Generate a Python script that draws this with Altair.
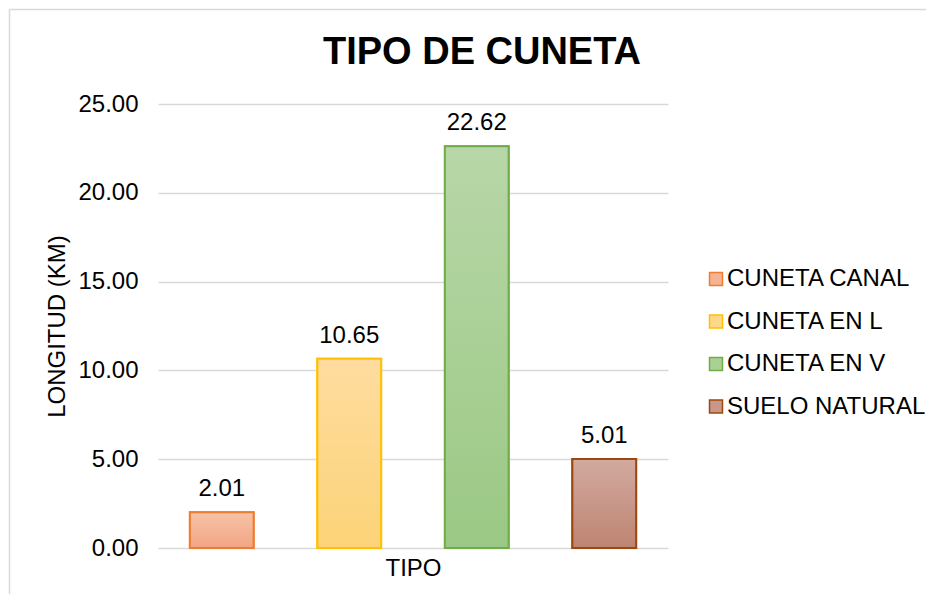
import altair as alt
import pandas as pd

titulo = "TIPO DE CUNETA"
categorias = ["CUNETA CANAL", "CUNETA EN L", "CUNETA EN V", "SUELO NATURAL"]
longitudes = [2.01, 10.65, 22.62, 5.01]
relleno_sup = ["#F7C2A7", "#FEDC9E", "#B8D7A8", "#D2AA9F"]
relleno_inf = ["#F2A584", "#FCD378", "#9BC884", "#BE8472"]
relleno_medio = ["#F4B394", "#FDD88B", "#AAD096", "#C89789"]
bordes = ["#ED7D31", "#FFC000", "#70AD47", "#9E480E"]
ticks_y = [0, 5, 10, 15, 20, 25]

FONT = "Liberation Sans"
FS = 24

df = pd.DataFrame({"tipo": categorias, "km": longitudes})

x_enc = alt.X("tipo:N", sort=categorias,
              scale=alt.Scale(domain=categorias, paddingInner=0.5, paddingOuter=0.25),
              axis=alt.Axis(labels=False, ticks=False, domain=False, grid=False,
                            title="TIPO", titleFont=FONT, titleFontSize=FS,
                            titleFontWeight="normal", titleColor="black",
                            titleBaseline="alphabetic", titleY=27))
y_enc = alt.Y("km:Q", scale=alt.Scale(domain=[0, 25], nice=False),
              axis=alt.Axis(values=ticks_y, format=".2f", ticks=False, domain=False,
                            grid=True, gridColor="#D9D9D9", gridWidth=1.3,
                            labelFont=FONT, labelFontSize=FS, labelColor="black",
                            labelPadding=20,
                            title="LONGITUD (KM)", titleFont=FONT, titleFontSize=FS,
                            titleFontWeight="normal", titleColor="black",
                            titleAngle=-90, titleBaseline="alphabetic",
                            titleAlign="center", titleX=-94, titleY=222))

base = alt.Chart(df)

leg = dict(title=None, orient="none", legendX=546, legendY=163,
           labelFont=FONT, labelFontSize=FS, labelColor="black", symbolType="square",
           symbolSize=169, symbolStrokeWidth=1.5, rowPadding=18.5,
           labelOffset={"expr": "-1"}, padding=0, labelLimit=400)

legend_bars = base.mark_bar(strokeWidth=2).encode(
    x=x_enc, y=y_enc,
    fill=alt.Fill("tipo:N", scale=alt.Scale(domain=categorias, range=relleno_medio),
                  legend=alt.Legend(**leg)),
    stroke=alt.Stroke("tipo:N", scale=alt.Scale(domain=categorias, range=bordes),
                      legend=alt.Legend(**leg)),
)

layers = [legend_bars]
for cat, top, bot, st in zip(categorias, relleno_sup, relleno_inf, bordes):
    grad = alt.Gradient(gradient="linear", x1=0, x2=0, y1=0, y2=1,
                        stops=[alt.GradientStop(color=top, offset=0),
                               alt.GradientStop(color=bot, offset=1)])
    layers.append(
        base.transform_filter(alt.datum.tipo == cat)
        .mark_bar(fill=grad, stroke=st, strokeWidth=2)
        .encode(x=x_enc, y=y_enc)
    )

labels = base.mark_text(dy=-16, baseline="alphabetic", font=FONT, fontSize=FS,
                        color="black").encode(
    x=x_enc, y=y_enc, text=alt.Text("km:Q", format=".2f"))
layers.append(labels)

one = alt.Chart(pd.DataFrame({"t": [titulo]}))
borde_izq = one.mark_rule(color="#D9D9D9", strokeWidth=1.5).encode(
    x=alt.value(-148.5), y=alt.value(-94.5), y2=alt.value(490))
borde_sup = one.mark_rule(color="#D9D9D9", strokeWidth=1.5).encode(
    x=alt.value(-148.5), x2=alt.value(768), y=alt.value(-94.5))
texto_titulo = one.mark_text(font=FONT, fontSize=38, fontWeight="bold", color="black",
                             baseline="alphabetic", align="center").encode(
    x=alt.value(324), y=alt.value(-40), text="t:N")
layers = [borde_izq, borde_sup, texto_titulo] + layers

chart = alt.layer(*layers).properties(
    width=510, height=444, padding=0, background="white",
).configure_view(stroke=None)

chart.save("out.html", embed_options={"renderer": "svg", "actions": False})
